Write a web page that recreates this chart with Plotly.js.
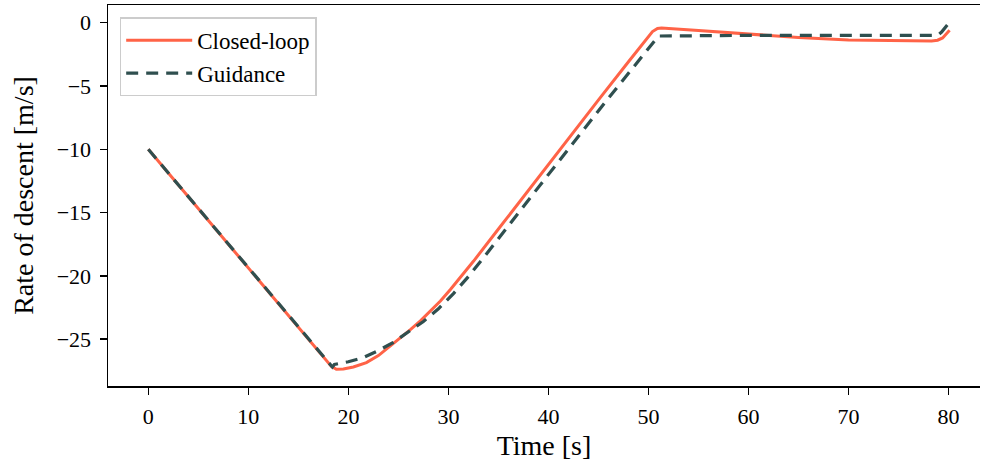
<!DOCTYPE html>
<html>
<head>
<meta charset="utf-8">
<script src="https://cdn.plot.ly/plotly-3.0.1.min.js"></script>
<style>
  html, body { margin: 0; padding: 0; background: #ffffff; overflow: hidden; }
  #chart { width: 982px; height: 469px; }
</style>
</head>
<body>
<div id="chart"></div>
<script>
// Closed-loop response
const closedLoopTime = [0, 17.5, 18.3, 18.8, 19.5, 20.5, 21.8, 23.0, 24.1, 25.2, 26.2, 27.2, 28.2, 29.2, 30.2, 31.2, 32.5, 35, 38.5, 42, 45.2, 48, 50.4, 50.9, 51.3, 55, 60, 65, 70, 75, 78.3, 78.9, 79.4, 80.1];
const closedLoopRate = [-10, -26.4, -27.15, -27.38, -27.36, -27.2, -26.85, -26.3, -25.6, -24.9, -24.24, -23.55, -22.8, -21.98, -21.08, -20.13, -18.85, -16.3, -12.7, -9.15, -5.9, -3.08, -0.7, -0.45, -0.42, -0.62, -0.9, -1.17, -1.36, -1.43, -1.44, -1.38, -1.2, -0.6];

// Guidance profile
const guidanceTime = [0, 18.4, 18.6, 20, 21.5, 23, 24.5, 26, 27.5, 29, 30.5, 32, 33.5, 38.5, 45.2, 51, 55, 60, 65, 70, 75, 78.9, 79.3, 80];
const guidanceRate = [-10, -27.2, -27.0, -26.78, -26.45, -25.9, -25.25, -24.45, -23.6, -22.6, -21.4, -20.05, -18.58, -13.5, -6.75, -1.05, -1.0, -1.0, -1.0, -1.0, -1.0, -1.0, -0.74, -0.05];

const xTicks = [0, 10, 20, 30, 40, 50, 60, 70, 80];
const yTicks = [0, -5, -10, -15, -20, -25];

const serif = '"Liberation Serif", "DejaVu Serif", serif';

const traces = [
  {
    x: closedLoopTime, y: closedLoopRate, type: 'scatter', mode: 'lines',
    name: 'Closed-loop',
    line: { color: '#FF6347', width: 3 }
  },
  {
    x: guidanceTime, y: guidanceRate, type: 'scatter', mode: 'lines',
    name: 'Guidance',
    line: { color: '#2F4F4F', width: 3.2, dash: '12px,8px' }
  }
];

const layout = {
  width: 982, height: 469,
  margin: { l: 108, r: 2, t: 5, b: 83 },
  paper_bgcolor: '#ffffff', plot_bgcolor: '#ffffff',
  showlegend: true,
  legend: {
    x: 0.0134, y: 0.968, xanchor: 'left', yanchor: 'top',
    bgcolor: 'rgba(255,255,255,0.8)', bordercolor: '#cccccc', borderwidth: 1.5,
    font: { family: serif, size: 23, color: '#000000' },
    itemwidth: 66,
    tracegroupgap: 0
  },
  xaxis: {
    range: [-4.03, 83.14],
    tickvals: xTicks, ticktext: xTicks.map(String),
    ticks: 'outside', ticklen: 7, tickwidth: 1.5, tickcolor: '#000',
    ticklabelstandoff: 3,
    showline: true, linecolor: '#000', linewidth: 1.5, mirror: true,
    showgrid: false, zeroline: false,
    tickfont: { family: serif, size: 22, color: '#000' },
    title: { text: 'Time [s]', font: { family: serif, size: 28, color: '#000' }, standoff: 7 }
  },
  yaxis: {
    range: [-28.7, 1.4],
    tickvals: yTicks, ticktext: yTicks.map(v => v < 0 ? '\u2212' + Math.abs(v) : String(v)),
    ticks: 'outside', ticklen: 7, tickwidth: 1.5, tickcolor: '#000',
    ticklabelstandoff: 4,
    showline: true, linecolor: '#000', linewidth: 1.5, mirror: false,
    showgrid: false, zeroline: false,
    tickfont: { family: serif, size: 22, color: '#000' },
    title: { text: 'Rate of descent [m/s]', font: { family: serif, size: 28, color: '#000' }, standoff: 15 }
  }
};

Plotly.newPlot('chart', traces, layout, { staticPlot: true, displayModeBar: false });
</script>
</body>
</html>
